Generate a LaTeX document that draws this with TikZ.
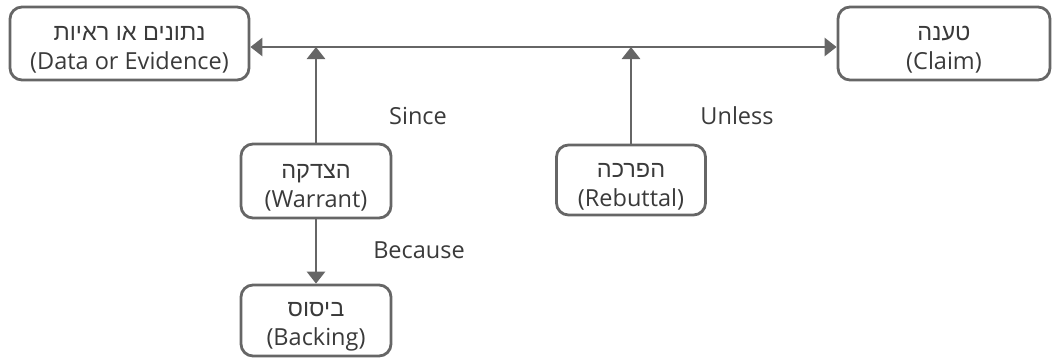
\documentclass[tikz,border=0pt]{standalone}
\usepackage{fontspec}
\setmainfont{Open Sans}
\newfontfamily\hebfont[Script=Hebrew]{Liberation Sans}
\TeXXeTstate=1
\usetikzlibrary{arrows.meta}
\definecolor{edge}{HTML}{666666}
\definecolor{txt}{HTML}{3A3A3A}
\tikzset{
  box/.style={draw=edge, line width=2.8pt, rounded corners=12pt, align=center, text=txt, font=\fontsize{23.5}{29}\selectfont, inner sep=0pt},
  conn/.style={draw=edge, line width=2.8pt, -{Triangle[width=18pt,length=12pt]}},
  lbl/.style={text=txt, font=\fontsize{23.5}{28}\selectfont}
}
\newcommand{\heb}[1]{\rule{0pt}{27pt}{\hebfont\beginR #1\endR}}
\begin{document}
\begin{tikzpicture}[x=1pt,y=-1pt]
\useasboundingbox (0,0) rectangle (1054,360);
\node[box, minimum width=239pt, minimum height=73pt] (data) at (129.5,43.5) {\heb{נתונים או ראיות}\\(Data or Evidence)};
\node[box, minimum width=212pt, minimum height=73pt] (claim) at (944,43.5) {\heb{טענה}\\(Claim)};
\node[box, minimum width=150pt, minimum height=74pt] (warrant) at (316,181) {\heb{הצדקה}\\(Warrant)};
\node[box, minimum width=150pt, minimum height=71pt] (backing) at (316,320.5) {\heb{ביסוס}\\(Backing)};
\node[box, minimum width=149pt, minimum height=70pt] (rebuttal) at (631,180) {\heb{הפרכה}\\(Rebuttal)};
\coordinate (L) at (0,47);
\coordinate (jw) at (warrant.north |- L);
\coordinate (jr) at (rebuttal.north |- L);
\draw[conn, {Triangle[width=18pt,length=12pt]}-{Triangle[width=18pt,length=12pt]}] (data.east |- L) -- (claim.west |- L);
\draw[conn] (warrant.north) -- (jw);
\draw[conn] (rebuttal.north) -- (jr);
\draw[conn] (warrant.south) -- (backing.north);
\node[lbl] (since) at (418,116) {Since};
\node[lbl] (unless) at (737,116) {Unless};
\node[lbl] (because) at (419,250) {Because};
\end{tikzpicture}
\end{document}
